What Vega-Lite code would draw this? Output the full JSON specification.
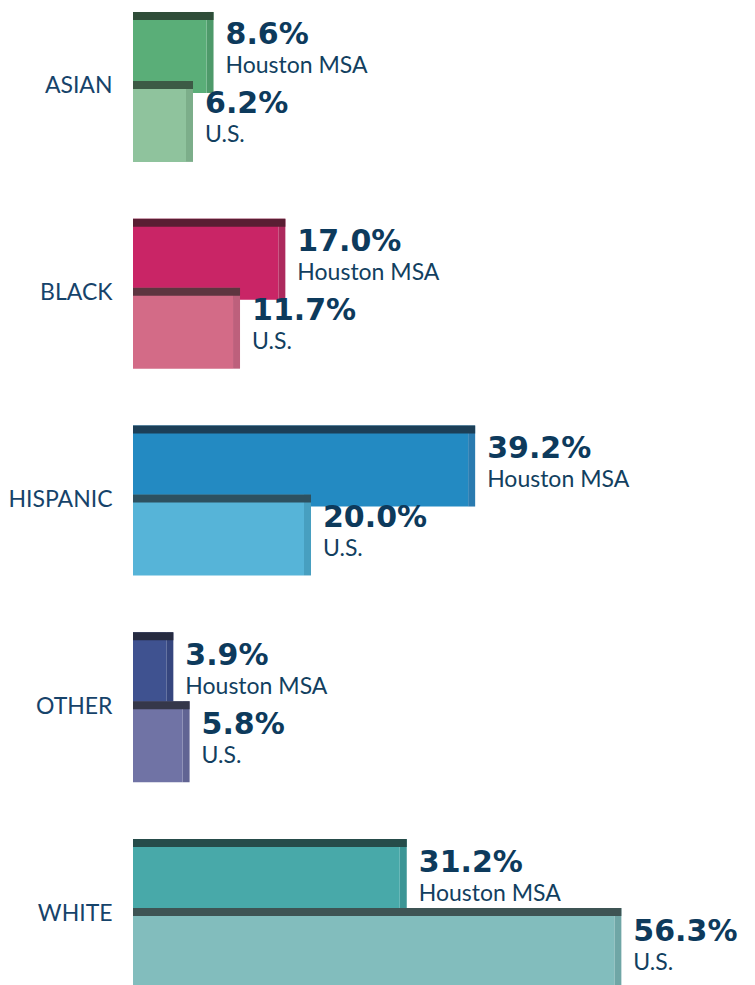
{
  "$schema": "https://vega.github.io/schema/vega-lite/v6.json",
  "width": 513,
  "height": 965,
  "autosize": "none",
  "padding": {"left": 133, "top": 18, "right": 109, "bottom": 2},
  "background": "white",
  "config": {"view": {"stroke": null}},
  "data": {
    "values": [
      {"category": "ASIAN", "series": "Houston MSA", "value": 8.6},
      {"category": "ASIAN", "series": "U.S.", "value": 6.2},
      {"category": "BLACK", "series": "Houston MSA", "value": 17.0},
      {"category": "BLACK", "series": "U.S.", "value": 11.7},
      {"category": "HISPANIC", "series": "Houston MSA", "value": 39.2},
      {"category": "HISPANIC", "series": "U.S.", "value": 20.0},
      {"category": "OTHER", "series": "Houston MSA", "value": 3.9},
      {"category": "OTHER", "series": "U.S.", "value": 5.8},
      {"category": "WHITE", "series": "Houston MSA", "value": 31.2},
      {"category": "WHITE", "series": "U.S.", "value": 56.3}
    ]
  },
  "transform": [
    {"calculate": "datum.category + '|' + datum.series", "as": "key"},
    {"calculate": "format(datum.value, '.1f') + '%'", "as": "label"}
  ],
  "encoding": {
    "y": {
      "field": "key",
      "type": "nominal",
      "scale": {
        "domain": ["ASIAN|Houston MSA", "ASIAN|U.S.", "g1", "BLACK|Houston MSA", "BLACK|U.S.", "g2", "HISPANIC|Houston MSA", "HISPANIC|U.S.", "g3", "OTHER|Houston MSA", "OTHER|U.S.", "g4", "WHITE|Houston MSA", "WHITE|U.S."],
        "paddingInner": 0,
        "paddingOuter": 0
      },
      "axis": {
        "title": null,
        "domain": false,
        "ticks": false,
        "grid": false,
        "labelExpr": "indexof(datum.value, '|Houston MSA') > 0 ? split(datum.value, '|')[0] : ''",
        "labelOffset": 34,
        "labelPadding": 21,
        "labelFont": "Lato",
        "labelFontSize": 23,
        "labelColor": "#16436a",
        "labelFontWeight": "normal"
      }
    }
  },
  "resolve": {"scale": {"color": "independent"}},
  "layer": [
    {
      "transform": [{"filter": "datum.series == 'Houston MSA'"}],
      "mark": {"type": "bar", "height": 81, "xOffset": 7},
      "encoding": {
        "x": {"field": "value", "type": "quantitative", "stack": null, "scale": {"domain": [0, 60]}, "axis": null},
        "x2": {"field": "value"},
        "color": {"field": "key", "type": "nominal", "legend": null, "scale": {"domain": ["ASIAN|Houston MSA", "BLACK|Houston MSA", "HISPANIC|Houston MSA", "OTHER|Houston MSA", "WHITE|Houston MSA"], "range": ["#4e9a6a", "#ad2a5d", "#2a7bb0", "#36467e", "#3c9595"]}}
      }
    },
    {
      "transform": [{"filter": "datum.series == 'Houston MSA'"}],
      "mark": {"type": "bar", "height": 81},
      "encoding": {
        "x": {"field": "value", "type": "quantitative", "stack": null},
        "x2": {"datum": 0},
        "color": {"field": "key", "type": "nominal", "legend": null, "scale": {"domain": ["ASIAN|Houston MSA", "BLACK|Houston MSA", "HISPANIC|Houston MSA", "OTHER|Houston MSA", "WHITE|Houston MSA"], "range": ["#5aae78", "#c92566", "#238ac2", "#3f5290", "#48a9a9"]}}
      }
    },
    {
      "transform": [{"filter": "datum.series == 'Houston MSA'"}],
      "mark": {"type": "bar", "height": 8, "yOffset": -36.5, "xOffset": 7},
      "encoding": {
        "x": {"field": "value", "type": "quantitative", "stack": null},
        "x2": {"datum": 0},
        "color": {"field": "key", "type": "nominal", "legend": null, "scale": {"domain": ["ASIAN|Houston MSA", "BLACK|Houston MSA", "HISPANIC|Houston MSA", "OTHER|Houston MSA", "WHITE|Houston MSA"], "range": ["#2f4d39", "#5a1e33", "#1c3f57", "#262b40", "#264c4a"]}}
      }
    },
    {
      "transform": [{"filter": "datum.series == 'U.S.'"}],
      "mark": {"type": "bar", "height": 81, "xOffset": 7},
      "encoding": {
        "x": {"field": "value", "type": "quantitative", "stack": null},
        "x2": {"field": "value"},
        "color": {"field": "key", "type": "nominal", "legend": null, "scale": {"domain": ["ASIAN|U.S.", "BLACK|U.S.", "HISPANIC|U.S.", "OTHER|U.S.", "WHITE|U.S."], "range": ["#7cae8a", "#bd607c", "#479fc0", "#616493", "#6fa6a6"]}}
      }
    },
    {
      "transform": [{"filter": "datum.series == 'U.S.'"}],
      "mark": {"type": "bar", "height": 81},
      "encoding": {
        "x": {"field": "value", "type": "quantitative", "stack": null},
        "x2": {"datum": 0},
        "color": {"field": "key", "type": "nominal", "legend": null, "scale": {"domain": ["ASIAN|U.S.", "BLACK|U.S.", "HISPANIC|U.S.", "OTHER|U.S.", "WHITE|U.S."], "range": ["#8fc39d", "#d36b87", "#56b4d8", "#7073a5", "#82bdbd"]}}
      }
    },
    {
      "transform": [{"filter": "datum.series == 'U.S.'"}],
      "mark": {"type": "bar", "height": 8, "yOffset": -36.5, "xOffset": 7},
      "encoding": {
        "x": {"field": "value", "type": "quantitative", "stack": null},
        "x2": {"datum": 0},
        "color": {"field": "key", "type": "nominal", "legend": null, "scale": {"domain": ["ASIAN|U.S.", "BLACK|U.S.", "HISPANIC|U.S.", "OTHER|U.S.", "WHITE|U.S."], "range": ["#3c5a45", "#5e3540", "#2d5160", "#35374a", "#3e5454"]}}
      }
    },
    {
      "mark": {"type": "text", "align": "left", "baseline": "alphabetic", "dx": 19, "dy": -8, "font": "DejaVu Sans", "fontSize": 30, "fontWeight": "bold", "color": "#0d3a5c"},
      "encoding": {
        "x": {"field": "value", "type": "quantitative"},
        "text": {"field": "label"}
      }
    },
    {
      "mark": {"type": "text", "align": "left", "baseline": "alphabetic", "dx": 19, "dy": 21, "font": "Lato", "fontSize": 23, "fontWeight": "normal", "color": "#123f60"},
      "encoding": {
        "x": {"field": "value", "type": "quantitative"},
        "text": {"field": "series"}
      }
    }
  ]
}
